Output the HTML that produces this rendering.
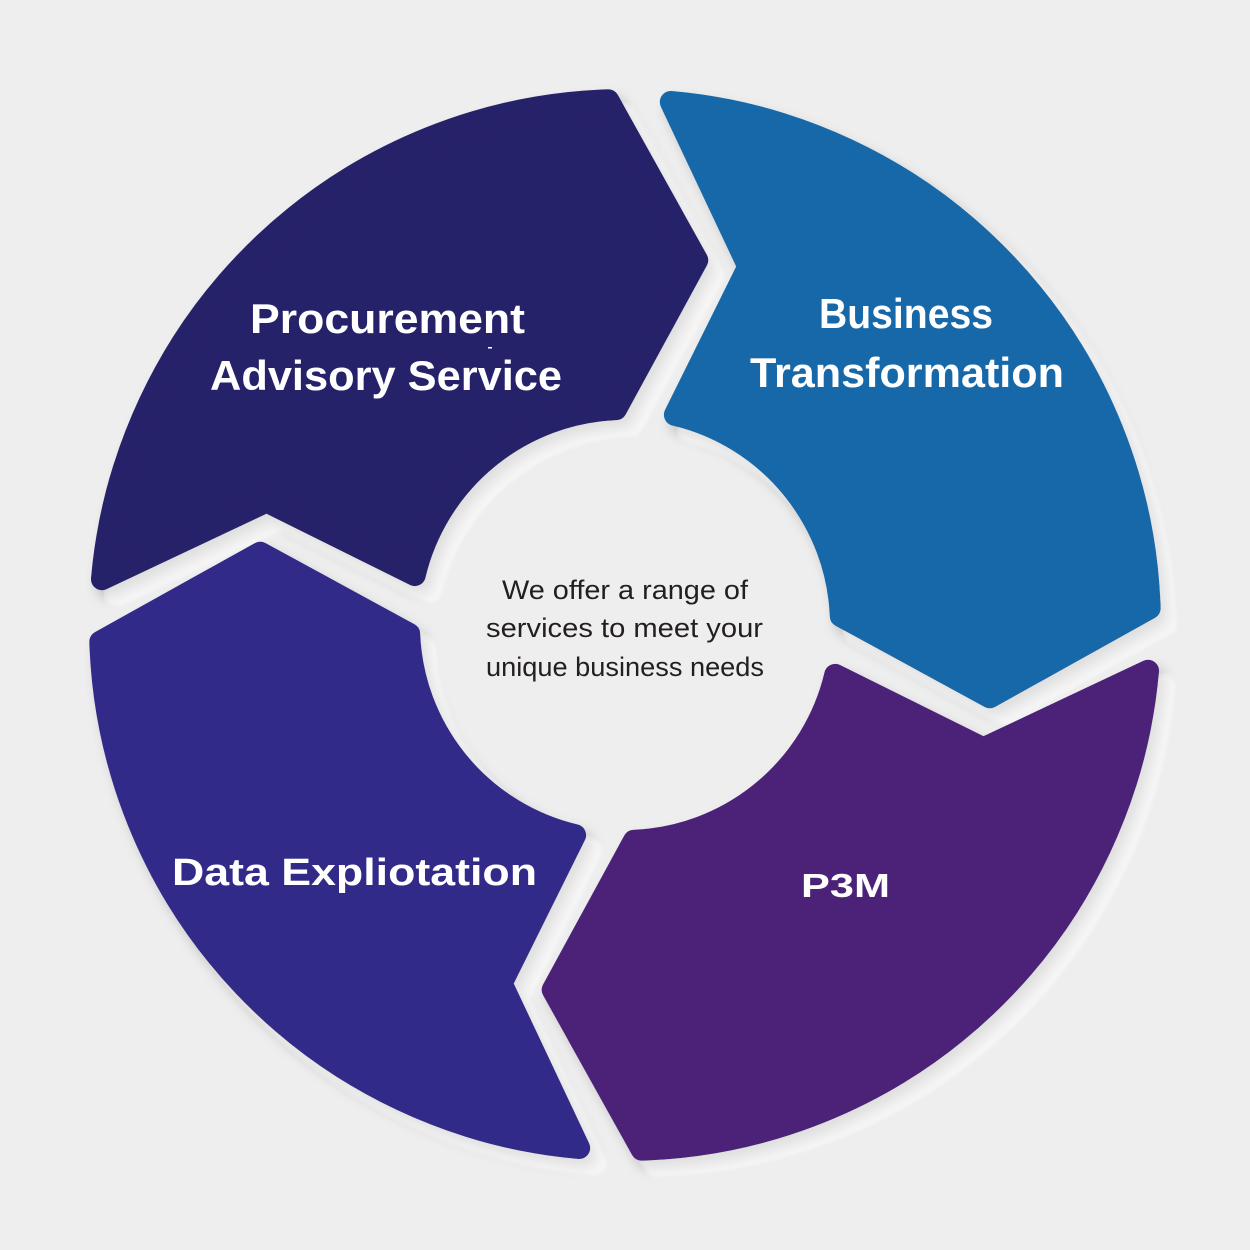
<!DOCTYPE html>
<html>
<head>
<meta charset="utf-8">
<style>
  html, body { margin:0; padding:0; background:#eeeeee; }
  body { width:1250px; height:1250px; overflow:hidden; }
  svg { display:block; }
</style>
</head>
<body>
<svg width="1250" height="1250" viewBox="0 0 1250 1250" xmlns="http://www.w3.org/2000/svg">
  <defs>
    <filter id="sh" x="-10%" y="-10%" width="125%" height="125%">
      <feOffset in="SourceAlpha" dx="16" dy="16" result="o1"/>
      <feGaussianBlur in="o1" stdDeviation="1.5" result="b1"/>
      <feFlood flood-color="#f6f6f6" result="f1"/>
      <feComposite in="f1" in2="b1" operator="in" result="halo"/>
      <feOffset in="SourceAlpha" dx="6" dy="8" result="o2"/>
      <feGaussianBlur in="o2" stdDeviation="6" result="b2"/>
      <feFlood flood-color="#000000" flood-opacity="0.2" result="f2"/>
      <feComposite in="f2" in2="b2" operator="in" result="shadow"/>
      <feMerge>
        <feMergeNode in="halo"/>
        <feMergeNode in="shadow"/>
        <feMergeNode in="SourceGraphic"/>
      </feMerge>
    </filter>
  </defs>

  <rect width="1250" height="1250" fill="#eeeeee"/>

  <g filter="url(#sh)" stroke-linejoin="round" stroke-width="22">
    <!-- Business Transformation (head at right) -->
    <path d="M670.8,102.0 A525,525 0 0 1 1149.7,608.3 L989.9,697.3 L840.8,616.1 A216,216 0 0 0 674.9,414.8 L748.4,266.6 Z"
          fill="#1368a8" stroke="#1368a8"/>
    <!-- P3M (head at bottom) -->
    <path transform="rotate(90 625 625)" d="M670.8,102.0 A525,525 0 0 1 1149.7,608.3 L989.9,697.3 L840.8,616.1 A216,216 0 0 0 674.9,414.8 L748.4,266.6 Z"
          fill="#4c2277" stroke="#4c2277"/>
    <!-- Data Exploitation (head at left) -->
    <path transform="rotate(180 625 625)" d="M670.8,102.0 A525,525 0 0 1 1149.7,608.3 L989.9,697.3 L840.8,616.1 A216,216 0 0 0 674.9,414.8 L748.4,266.6 Z"
          fill="#332a89" stroke="#332a89"/>
    <!-- Procurement (head at top) -->
    <path transform="rotate(270 625 625)" d="M670.8,102.0 A525,525 0 0 1 1149.7,608.3 L989.9,697.3 L840.8,616.1 A216,216 0 0 0 674.9,414.8 L748.4,266.6 Z"
          fill="#28206a" stroke="#28206a"/>
  </g>

  <!-- Segment labels -->
  <g font-family="'Liberation Sans', Arial, sans-serif" font-weight="bold" fill="#ffffff">
    <text x="250" y="333" font-size="42" textLength="275" lengthAdjust="spacingAndGlyphs">Procurement</text>
    <text x="210" y="390" font-size="42" textLength="352" lengthAdjust="spacingAndGlyphs">Advisory Service</text>
    <text x="819" y="328" font-size="42" textLength="174" lengthAdjust="spacingAndGlyphs">Business</text>
    <text x="750" y="387" font-size="42" textLength="314" lengthAdjust="spacingAndGlyphs">Transformation</text>
    <text x="172" y="885" font-size="38" textLength="365" lengthAdjust="spacingAndGlyphs">Data Expliotation</text>
    <text x="801" y="897" font-size="33" textLength="89" lengthAdjust="spacingAndGlyphs">P3M</text>
  </g>
  <rect x="488" y="347" width="4" height="1.5" fill="#ffffff"/>

  <!-- Center text -->
  <g font-family="'Liberation Sans', Arial, sans-serif" fill="#231f20" font-size="27">
    <text x="502" y="599" textLength="246" lengthAdjust="spacingAndGlyphs">We offer a range of</text>
    <text x="486" y="637" textLength="277" lengthAdjust="spacingAndGlyphs">services to meet your</text>
    <text x="486" y="676" textLength="278" lengthAdjust="spacingAndGlyphs">unique business needs</text>
  </g>
</svg>
</body>
</html>
